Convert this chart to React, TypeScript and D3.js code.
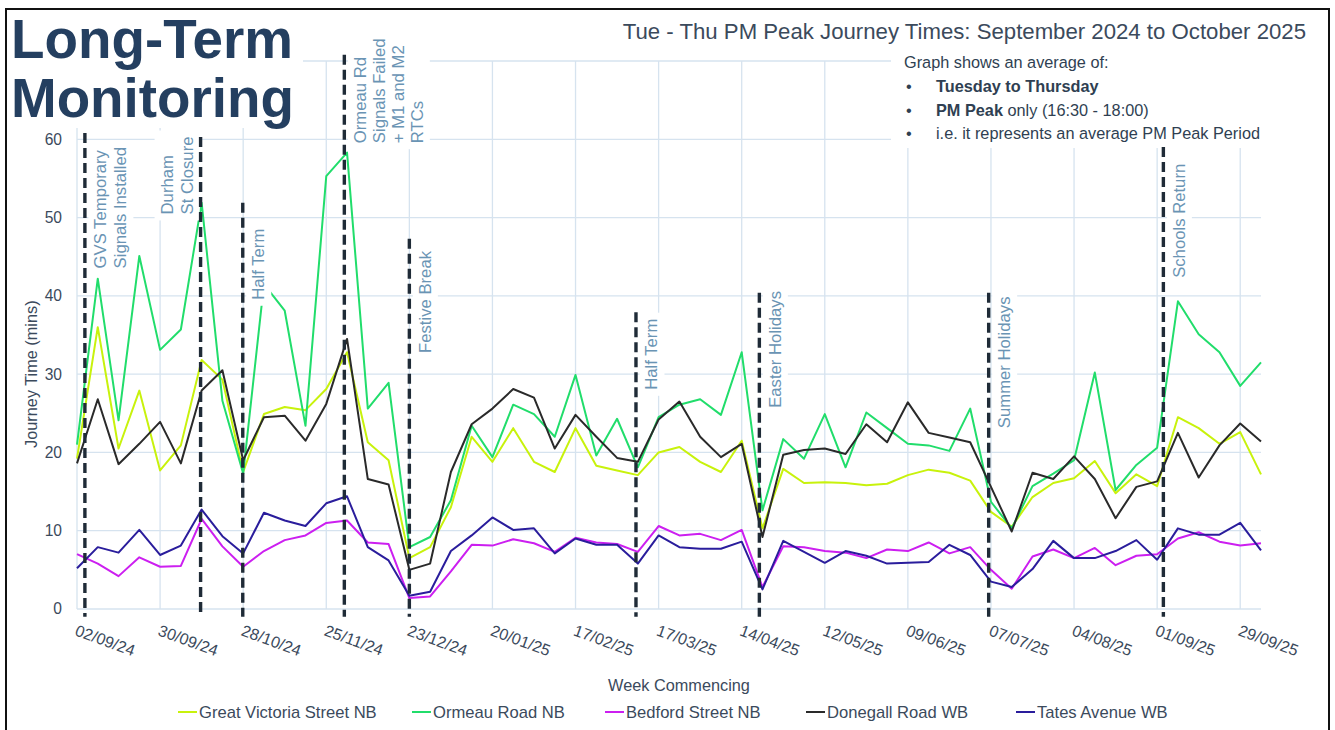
import React, { useRef, useEffect } from 'react';
import * as d3 from 'd3';

// week commencing labels (every 4th week)
const tickLabels = ['02/09/24', '30/09/24', '28/10/24', '25/11/24', '23/12/24', '20/01/25', '17/02/25', '17/03/25',
    '14/04/25', '12/05/25', '09/06/25', '07/07/25', '04/08/25', '01/09/25', '29/09/25'];

// journey times (mins), one value per week from 02/09/24 to 06/10/25
const greatVictoria = [19.2, 36.0, 20.5, 27.9, 17.7, 20.9, 31.8, 29.3, 17.5, 24.9, 25.8, 25.4,
    28.1, 32.8, 21.3, 19.0, 6.5, 7.9, 13.0, 22.0, 18.8, 23.1, 18.8,
    17.5, 23.1, 18.3, 17.7, 17.1, 20.0, 20.7, 18.8, 17.5, 21.5, 10.3,
    17.9, 16.1, 16.2, 16.1, 15.8, 16.0, 17.1, 17.8, 17.4, 16.4, 12.4,
    10.5, 14.3, 16.1, 16.7, 18.9, 14.8, 17.2, 15.7, 24.5, 23.1, 21.1, 22.6, 17.2];
const ormeau = [21.0, 42.2, 24.1, 45.1, 33.1, 35.7, 51.9, 26.6, 17.3, 41.5, 38.1, 23.4,
    55.3, 58.3, 25.6, 28.9, 7.9, 9.2, 13.9, 23.4, 19.4, 26.1, 24.9,
    22.0, 29.9, 19.6, 24.3, 18.1, 24.5, 26.1, 26.8, 24.8, 32.8, 12.6,
    21.7, 19.2, 24.9, 18.1, 25.1, 23.1, 21.1, 20.9, 20.2, 25.6, 13.7,
    10.3, 15.7, 17.3, 19.0, 30.2, 15.2, 18.4, 20.6, 39.3, 35.1, 32.8, 28.5, 31.5];
const bedford = [7.0, 5.8, 4.2, 6.6, 5.4, 5.5, 11.5, 8.0, 5.4, 7.4, 8.8, 9.4,
    11.0, 11.3, 8.5, 8.3, 1.4, 1.6, 4.8, 8.2, 8.1, 8.9, 8.4,
    7.3, 9.1, 8.5, 8.3, 7.3, 10.6, 9.4, 9.6, 8.8, 10.1, 2.8,
    8.0, 7.9, 7.4, 7.2, 6.5, 7.6, 7.4, 8.5, 7.1, 7.9, 5.0,
    2.6, 6.7, 7.6, 6.5, 7.8, 5.6, 6.8, 7.0, 9.0, 9.8, 8.6, 8.1, 8.4];
const donegall = [18.6, 26.8, 18.5, 21.1, 23.9, 18.6, 27.9, 30.5, 19.0, 24.5, 24.7, 21.5,
    26.2, 34.5, 16.6, 15.9, 5.0, 5.8, 17.5, 23.6, 25.6, 28.1, 27.0,
    20.5, 24.8, 22.0, 19.3, 18.8, 24.2, 26.5, 22.0, 19.4, 21.1, 9.2,
    19.7, 20.3, 20.5, 19.8, 23.6, 21.3, 26.4, 22.5, 21.9, 21.3, 15.6,
    9.9, 17.4, 16.6, 19.5, 16.6, 11.6, 15.6, 16.3, 22.5, 16.8, 20.9, 23.7, 21.4];
const tates = [5.2, 7.9, 7.2, 10.1, 6.9, 8.1, 12.7, 9.3, 7.1, 12.3, 11.3, 10.6,
    13.5, 14.4, 7.9, 6.2, 1.7, 2.2, 7.4, 9.4, 11.7, 10.1, 10.3,
    7.1, 9.0, 8.2, 8.2, 5.8, 9.4, 7.9, 7.7, 7.7, 8.6, 2.5,
    8.7, 7.3, 5.9, 7.4, 6.8, 5.8, 5.9, 6.0, 8.2, 6.9, 3.5,
    2.8, 5.1, 8.7, 6.5, 6.5, 7.4, 8.8, 6.3, 10.3, 9.5, 9.5, 11.0, 7.5];

const seriesNames = ['Great Victoria Street NB', 'Ormeau Road NB', 'Bedford Street NB', 'Donegall Road WB', 'Tates Avenue WB'];
const seriesValues = [greatVictoria, ormeau, bedford, donegall, tates];

// events: week index, top of the dashed marker (mins), where the label starts (mins)
const eventWeeks = [0.38, 5.95, 7.98, 12.87, 16, 26.91, 32.85, 43.89, 52.3];
const eventTops = [60.8, 60.3, 51.9, 70.8, 47.3, 37.9, 40.4, 40.4, 59];
const eventLabelStart = [43.5, 50.4, 39.5, 59.5, 32.7, 28, 25.7, 23.1, 42.3];
const eventLabels = [
    ['GVS Temporary', 'Signals Installed'],
    ['Durham', 'St Closure'],
    ['Half Term'],
    ['Ormeau Rd', 'Signals Failed', '+ M1 and M2', 'RTCs'],
    ['Festive Break'],
    ['Half Term'],
    ['Easter Holidays'],
    ['Summer Holidays'],
    ['Schools Return'],
];

const W = 1335;
const H = 730;
const FONT = '"Liberation Sans", Arial, Helvetica, sans-serif';
const colours = ['#c8f20c', '#21dd6b', '#cc1ff0', '#2a2a2a', '#2a1d9c'];
const textCol = '#3b4a5c';
const noteCol = '#2f3f52';
const eventCol = '#6a94b4';

export default function App() {
    const ref = useRef<SVGSVGElement>(null);

    useEffect(() => {
        const svg = d3.select(ref.current);
        svg.selectAll('*').remove();
        svg.append('rect').attr('width', W).attr('height', H).attr('fill', '#fff');

        const n = greatVictoria.length;
        const x = d3.scaleLinear().domain([0, n - 1]).range([77, 1261]);
        const y = d3.scaleLinear().domain([0, 70]).range([609, 61]);

        // grid
        const grid = svg.append('g').attr('stroke', '#d6e3ef').attr('stroke-width', 1.3);
        grid.selectAll('line.h')
            .data(d3.range(0, 71, 10))
            .join('line')
            .attr('class', 'h')
            .attr('x1', x(0)).attr('x2', x(n - 1))
            .attr('y1', d => y(d)).attr('y2', d => y(d));
        grid.selectAll('line.v')
            .data(tickLabels.map((_, i) => i * 4))
            .join('line')
            .attr('class', 'v')
            .attr('x1', d => x(d)).attr('x2', d => x(d))
            .attr('y1', y(0)).attr('y2', y(70));

        // y ticks (70 sits under the title block)
        svg.append('g').selectAll('text')
            .data(d3.range(0, 61, 10))
            .join('text')
            .attr('x', 62).attr('y', d => y(d)).attr('dy', '0.35em')
            .attr('text-anchor', 'end')
            .style('font-family', FONT).style('font-size', '15.6px').attr('fill', textCol)
            .text(d => d);

        svg.append('text')
            .attr('transform', `translate(37,${(y(0) + y(60)) / 2}) rotate(-90)`)
            .attr('text-anchor', 'middle')
            .style('font-family', FONT).style('font-size', '16.3px').attr('fill', textCol)
            .text('Journey Time (mins)');

        // series
        const line = d3.line<number>().x((_, i) => x(i)).y(d => y(d));
        svg.append('g').selectAll('path')
            .data(seriesValues)
            .join('path')
            .attr('d', d => line(d))
            .attr('fill', 'none')
            .attr('stroke', (_, i) => colours[i])
            .attr('stroke-width', 2)
            .attr('stroke-linejoin', 'round');

        // title block
        svg.append('rect').attr('x', 8).attr('y', 10).attr('width', 295).attr('height', 118).attr('fill', '#fff');
        const title = svg.append('text')
            .style('font-family', FONT).style('font-size', '54.8px').style('font-weight', 'bold')
            .attr('fill', '#243f60');
        title.append('tspan').attr('x', 11).attr('y', 58).text('Long-Term');
        title.append('tspan').attr('x', 11).attr('y', 117).text('Monitoring');

        svg.append('text')
            .attr('x', 1306).attr('y', 39)
            .attr('text-anchor', 'end')
            .style('font-family', FONT).style('font-size', '22.2px').attr('fill', textCol)
            .text('Tue - Thu PM Peak Journey Times: September 2024 to October 2025');

        // notes box
        svg.append('rect').attr('x', 891).attr('y', 46).attr('width', 420).attr('height', 102).attr('fill', '#fff');
        const notes = svg.append('g').style('font-family', FONT).style('font-size', '16.3px').attr('fill', noteCol);
        notes.append('text').attr('x', 904).attr('y', 68).text('Graph shows an average of:');
        const bullets: [string, string][] = [
            ['Tuesday to Thursday', ''],
            ['PM Peak', ' only (16:30 - 18:00)'],
            ['', 'i.e. it represents an average PM Peak Period'],
        ];
        bullets.forEach(([b, r], i) => {
            const by = 92 + i * 23.5;
            notes.append('text').attr('x', 906).attr('y', by).text('•');
            const t = notes.append('text').attr('x', 936).attr('y', by);
            if (b) t.append('tspan').style('font-weight', 'bold').text(b);
            if (r) t.append('tspan').text(r);
        });

        // event labels
        const labels = svg.append('g');
        eventLabels.forEach((lines, k) => {
            const lx = x(eventWeeks[k]);
            const left = k === 1;
            const first = left ? lx - 8 - 20 * (lines.length - 1) : lx + 21.5;
            const g = labels.append('g');
            const t = g.append('text')
                .attr('transform', `translate(${first},${y(eventLabelStart[k])}) rotate(-90)`)
                .style('font-family', FONT).style('font-size', '16.7px').attr('fill', eventCol);
            lines.forEach((s, j) => {
                t.append('tspan').attr('x', 0).attr('y', j * (lines.length > 2 ? 19 : 20)).text(s);
            });
            const bb = (g.node() as SVGGElement).getBBox();
            g.insert('rect', 'text')
                .attr('x', bb.x - 3).attr('y', bb.y - 6)
                .attr('width', bb.width + 6).attr('height', bb.height + 12)
                .attr('fill', '#fff');
        });

        // event markers
        svg.append('g').selectAll('line')
            .data(eventWeeks)
            .join('line')
            .attr('x1', d => x(d)).attr('x2', d => x(d))
            .attr('y1', (_, i) => y(eventTops[i])).attr('y2', y(-1))
            .attr('stroke', '#1f2b37').attr('stroke-width', 3.4)
            .attr('stroke-dasharray', '10,5');

        // x ticks
        svg.append('g').selectAll('text')
            .data(tickLabels)
            .join('text')
            .attr('transform', (_, i) => `translate(${x(i * 4) - 3},635) rotate(20)`)
            .style('font-family', FONT).style('font-size', '16px').attr('fill', textCol)
            .text(d => d);

        svg.append('text')
            .attr('x', 679).attr('y', 691)
            .attr('text-anchor', 'middle')
            .style('font-family', FONT).style('font-size', '16.3px').attr('fill', textCol)
            .text('Week Commencing');

        // legend
        const legendX = [178, 412, 605, 806, 1016];
        const leg = svg.append('g').selectAll('g')
            .data(seriesNames)
            .join('g')
            .attr('transform', (_, i) => `translate(${legendX[i]},712)`);
        leg.append('line').attr('x1', 0).attr('x2', 19)
            .attr('stroke', (_, i) => colours[i]).attr('stroke-width', 2);
        leg.append('text').attr('x', 21).attr('dy', '0.35em')
            .style('font-family', FONT).style('font-size', '16.6px').attr('fill', textCol)
            .text(d => d);

        // frame
        svg.append('rect').attr('x', 6).attr('y', 9).attr('width', 1323).attr('height', 740)
            .attr('fill', 'none').attr('stroke', '#111').attr('stroke-width', 2);
    }, []);

    return <svg ref={ref} width={W} height={H} style={{ position: 'absolute', left: 0, top: 0 }} />;
}
